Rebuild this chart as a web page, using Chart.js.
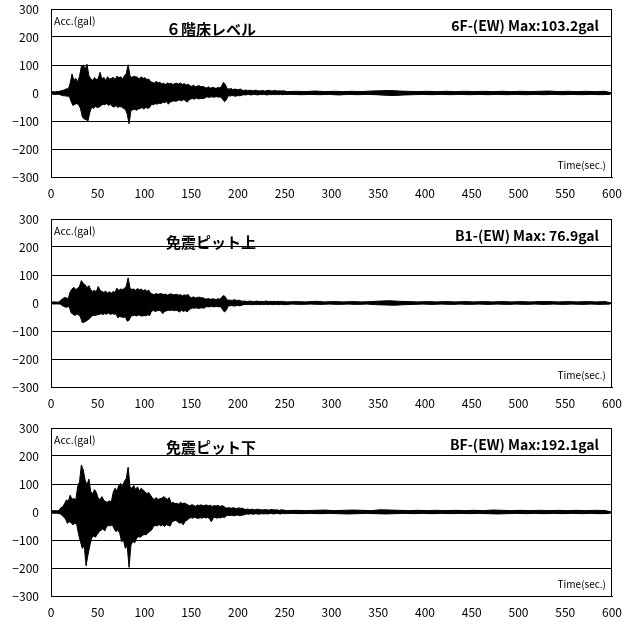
<!DOCTYPE html>
<html><head><meta charset="utf-8">
<script src="https://cdn.jsdelivr.net/npm/chart.js@4/dist/chart.umd.min.js"></script>
<style>
html,body{margin:0;padding:0;background:#fff;}
#wrap{position:relative;width:631px;height:621px;}
.pn{position:absolute;left:0;width:631px;height:210px;}
</style></head><body>
<div id="wrap">
<div class="pn" style="top:0px"><canvas id="c1"></canvas></div>
<div class="pn" style="top:210px"><canvas id="c2"></canvas></div>
<div class="pn" style="top:419px"><canvas id="c3"></canvas></div>
</div>
<script>
// time axis ticks
const xTicks = [0,50,100,150,200,250,300,350,400,450,500,550,600];
const yTicks = [-300,-200,-100,0,100,200,300];
// bins: 2-second bins from 0 to 248, then 10-second bins from 250 to 590
const activeBinSec = 2, tailBinSec = 10, activeEnd = 250, tailEnd = 600;

const titles = ["６階床レベル", "免震ピット上", "免震ピット下"];
const maxLabels = ["6F-(EW) Max:103.2gal", "B1-(EW) Max: 76.9gal", "BF-(EW) Max:192.1gal"];

// Panel 1 (6F) envelope: max / min per bin (gal)
const p1UpperActive = [4,5,4,6,5, 8,9, 12,15,14, 35,68, 45,52,40, 60, 95,100,85, 103,62, 50,45,55,48,52, 74, 50,56,45,58,50, 52,56,48,60,55,58,50,62, 70,101, 62,55,60,58, 56,50,58,52,55,48,50, 40,38,35,42,36,38, 32,35,30,36,33,35,30,34, 35,32,36,30,34,28,32, 26,24,28,22,25,26,22,24, 20,18,22,17,20,19,16,20,18, 25,38,30, 15,14,16,12,14,13,12,14, 10,9,11,8,10,9,8,10,9,7,8,9,7,8,10,8,7,9,8,7,8,7,8];
const p1LowerActive = [-4,-5,-5,-4,-6, -8,-10, -10,-12,-11, -30,-45, -40,-38,-42, -55, -85,-93,-95, -100,-70, -50,-55,-48,-52,-50, -45, -40,-42,-38,-44,-40, -48,-50,-45,-52,-48,-50,-55,-58, -75,-110, -63,-60,-58,-62, -57,-55,-52,-58,-50,-55,-52, -40,-42,-38,-40,-36,-38, -33,-35,-30,-40,-32,-30,-28,-30, -27,-25,-28,-24,-26,-33,-25, -21,-20,-22,-18,-21,-20,-19,-20, -15,-14,-16,-13,-15,-14,-13,-15,-14, -22,-31,-25, -10,-11,-9,-10,-12,-9,-10,-9, -6,-7,-6,-5,-7,-6,-5,-6,-7,-5,-6,-5,-6,-7,-5,-6,-5,-6,-5,-6,-5,-6,-5];
const p1UpperTail = [5,6,5,7,5,6,5,6,5,7,8,9,7,6,5,6,5,6,5,6,5,6,5,6,5,6,5,6,7,5,6,5,6,5,6];
const p1LowerTail = [-5,-6,-5,-6,-5,-7,-5,-6,-5,-6,-8,-9,-7,-6,-5,-6,-5,-6,-5,-6,-5,-6,-5,-6,-5,-6,-5,-6,-5,-6,-5,-6,-5,-6,-5];

// Panel 2 (B1)
const p2UpperActive = [3,4,4,3,4, 10,15,20,18,16, 40,50, 56,48,52, 60, 80,70, 65,55,62, 47,42,45,40, 59,45, 41,38,42,36,40,35,41,38, 53,45,50,48,52, 60,90, 53,48,50,45,52,47, 50,44,48,42,46, 35,32,30,34,31,33, 33,30,32,28,31,33,29,30, 31,28,30,26,29,27,31, 21,19,22,18,20,21,18,19, 15,14,16,13,15,14,12,15,14, 20,27,22, 10,11,9,10,12,9,10,9, 6,7,6,5,7,6,5,6,7,5,6,5,6,7,5,6,5,6,5,6,5,6,5];
const p2LowerActive = [-3,-4,-3,-4,-3, -8,-12,-15,-14,-13, -35,-40, -45,-40,-42, -50, -70,-68, -65,-60,-55, -47,-44,-45,-42, -41,-38, -41,-38,-40,-36,-41,-38,-40,-39, -53,-48,-50,-52,-49, -65,-62, -47,-45,-44,-46,-43,-45, -47,-44,-46,-42,-45, -29,-27,-30,-28,-26,-29, -38,-30,-28,-26,-27,-25,-28,-26, -28,-32,-26,-30,-27,-32,-25, -20,-18,-19,-17,-20,-18,-17,-19, -14,-13,-14,-12,-14,-13,-12,-14,-13, -24,-32,-26, -11,-10,-9,-11,-10,-9,-10,-9, -6,-5,-6,-5,-6,-6,-5,-6,-5,-6,-5,-6,-5,-6,-5,-5,-6,-5,-5,-6,-5,-5,-6];
const p2UpperTail = [4,5,4,6,4,5,4,5,4,5,7,8,6,5,4,5,4,5,4,5,4,5,4,5,4,5,4,5,5,4,5,4,5,4,5];
const p2LowerTail = [-4,-5,-4,-5,-4,-5,-4,-5,-4,-6,-7,-8,-6,-5,-4,-5,-4,-5,-4,-5,-4,-5,-4,-5,-4,-5,-4,-5,-4,-5,-4,-5,-4,-5,-4];

// Panel 3 (BF)
const p3UpperActive = [4,5,5,4,6, 15,19, 30,43,38,60, 45,49,42, 90,108, 168,150, 114, 96,118, 73,65,80,70, 49,45,55,42, 37,35,40,36, 70,85,75,95, 102,90,110, 120,160, 90,85,95, 80,90,75,85,78, 73,65,70,60, 49,45,52,44,48, 49,55,50,45,52, 31,35,30, 31,28,35,30,32,29, 25,22,26,24,20,25,23,26,22,24, 25,22,24,20,23,21,24,20,22,21, 15,14,16,13,15,14,12,15,13,14, 10,9,11,8,10,9,8,10,9,8,7,9,8,7,8,9,7,8,7,6,8,7];
const p3LowerActive = [-4,-5,-4,-6,-5, -12,-17, -25,-40,-35,-38, -46,-40,-44, -80,-106, -130,-120, -192, -154,-120, -94,-85,-90,-80, -70,-65,-60,-68, -52,-48,-50,-45, -60,-70,-65,-75, -106,-100,-130, -120,-198, -118,-105,-110, -94,-88,-90,-85,-80, -82,-75,-70,-65, -52,-48,-50,-45,-50, -46,-52,-45,-48,-50, -35,-32,-30, -35,-40,-38,-46,-32,-30, -23,-20,-22,-19,-21,-23,-20,-22,-19,-21, -20,-23,-35,-21,-19,-22,-20,-21,-18,-20, -14,-12,-13,-11,-14,-12,-11,-13,-12,-11, -8,-7,-8,-6,-8,-7,-6,-8,-7,-6,-7,-6,-7,-6,-5,-7,-6,-5,-6,-7,-5,-6];
const p3UpperTail = [5,6,5,6,7,5,6,7,6,5,8,7,6,5,6,5,6,5,6,5,6,5,7,6,5,6,5,6,5,6,5,6,5,6,5];
const p3LowerTail = [-5,-6,-5,-6,-5,-6,-7,-6,-5,-6,-7,-6,-5,-6,-5,-6,-5,-6,-5,-6,-5,-6,-7,-6,-5,-6,-5,-6,-5,-6,-5,-6,-5,-6,-5];

function envelope(active, tail, off) {
  const pts = [{x:0,y:0}];
  for (let i = 0; i < active.length; i++) pts.push({x: i * activeBinSec + off, y: active[i]});
  for (let i = 0; i < tail.length; i++) pts.push({x: activeEnd + i * tailBinSec + off * 5, y: tail[i]});
  pts.push({x:tailEnd, y:0});
  return pts;
}

const FONT = "'Noto Sans CJK JP', 'DejaVu Sans', sans-serif";

function makeChart(id, up, lo, title, maxLabel, titleDy) {
  const overlay = {
    id: 'overlay',
    afterDraw(chart) {
      const {ctx, chartArea:a} = chart;
      ctx.save();
      ctx.strokeStyle = '#000'; ctx.lineWidth = 1;
      ctx.strokeRect(Math.round(a.left)+0.5, Math.round(a.top)+0.5, Math.round(a.right-a.left)-1, Math.round(a.bottom-a.top));
      ctx.fillStyle = '#000';
      ctx.textBaseline = 'middle';
      ctx.font = "10.5px " + FONT; ctx.textAlign = 'left';
      ctx.fillText('Acc.(gal)', a.left + 3, a.top + 12);
      ctx.font = "10px " + FONT; ctx.textAlign = 'right';
      ctx.fillText('Time(sec.)', a.right - 6, a.bottom - 12);
      ctx.font = "bold 15px " + FONT; ctx.textAlign = 'center';
      ctx.fillText(title, 211, a.top + titleDy);
      ctx.font = "bold 14px " + FONT; ctx.textAlign = 'right';
      ctx.fillText(maxLabel, a.right - 13, a.top + 17);
      ctx.restore();
    }
  };
  return new Chart(document.getElementById(id), {
    type: 'line',
    data: { datasets: [
      { data: up, borderColor: '#000', borderWidth: 1, pointRadius: 0, tension: 0, fill: '+1', backgroundColor: '#000' },
      { data: lo, borderColor: '#000', borderWidth: 1, pointRadius: 0, tension: 0, fill: false }
    ] },
    options: {
      responsive: true, maintainAspectRatio: false, animation: false,
      layout: { padding: { top: 9, right: 19, left: 0, bottom: 0 } },
      plugins: { legend: { display: false }, tooltip: { enabled: false } },
      scales: {
        x: {
          type: 'linear', min: 0, max: 600,
          afterBuildTicks(s) { s.ticks = xTicks.map(v => ({value: v})); },
          afterFit(s) { s.height = 33; s.paddingLeft = 0; s.paddingRight = 0; },
          grid: { display: false, drawTicks: false },
          border: { display: true, color: '#000' },
          ticks: { color: '#000', font: { family: FONT, size: 12 }, padding: 9, maxRotation: 0, autoSkip: false }
        },
        y: {
          min: -300, max: 300,
          afterBuildTicks(s) { s.ticks = yTicks.map(v => ({value: v})); },
          afterFit(s) { s.width = 51; s.paddingTop = 0; s.paddingBottom = 0; },
          grid: { color: '#000', lineWidth: 1, drawTicks: false },
          border: { display: true, color: '#000' },
          ticks: { color: '#000', font: { family: FONT, size: 12 }, padding: 12,
                   callback: v => (v < 0 ? '\u2212' + Math.abs(v) : String(v)) }
        }
      }
    },
    plugins: [overlay]
  });
}

makeChart('c1', envelope(p1UpperActive, p1UpperTail, 0.5), envelope(p1LowerActive, p1LowerTail, 1.5), titles[0], maxLabels[0], 20);
makeChart('c2', envelope(p2UpperActive, p2UpperTail, 0.5), envelope(p2LowerActive, p2LowerTail, 1.5), titles[1], maxLabels[1], 23);
makeChart('c3', envelope(p3UpperActive, p3UpperTail, 0.5), envelope(p3LowerActive, p3LowerTail, 1.5), titles[2], maxLabels[2], 19);
</script>
</body></html>
